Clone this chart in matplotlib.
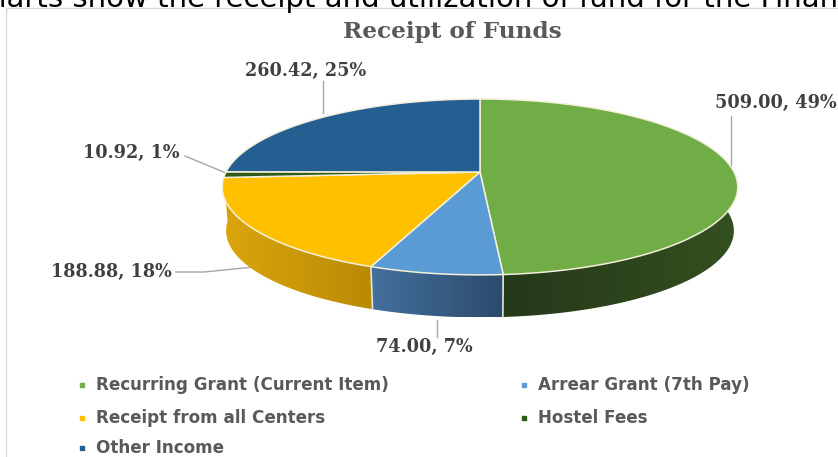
import numpy as np
import matplotlib
matplotlib.use("Agg")
import matplotlib.pyplot as plt
from matplotlib.colors import LinearSegmentedColormap
from matplotlib.patches import Polygon

# dati
categories = ["Recurring Grant (Current Item)", "Arrear Grant (7th Pay)",
              "Receipt from all Centers", "Hostel Fees", "Other Income"]
values = [509.00, 74.00, 188.88, 10.92, 260.42]
value_labels = ["509.00, 49%", "74.00, 7%", "188.88, 18%", "10.92, 1%", "260.42, 25%"]
title = "Receipt of Funds"
header = "charts show the receipt and utilization of fund for the Finan"

top_colors = ["#70ad47", "#5b9bd5", "#ffc000", "#2f5a1c", "#255e91"]
wall_dark = ["#24381a", "#2d4a6c", "#b98a04", "#1d3310", "#1a4165"]
wall_light = ["#34501f", "#43709c", "#dba50c", "#2a4a18", "#255e91"]

# geometria della torta (in pixel), con prospettiva
CX, CY = 480, 172
RX, RY = 254, 85.4
PERSP = 0.17
DEPTH = 44
SHRINK = 0.985


def project(theta, r=1.0, depth=0.0):
    # theta in senso orario dalle ore 12
    t = r * np.sin(theta)
    s = -r * np.cos(theta)
    d = 1 - PERSP * s
    scale = SHRINK if depth else 1.0
    return CX + scale * RX * t / d, CY + scale * RY * s / d + depth


fig = plt.figure(figsize=(8.38, 4.57), dpi=100)
ax = fig.add_axes([0, 0, 1, 1])
ax.set_xlim(0, 838)
ax.set_ylim(457, 0)
ax.axis("off")

# riquadro del grafico
ax.plot([6, 6, 838], [457, 8, 8], color="#d9d9d9", lw=1)

# testo tagliato in alto
ax.text(-28, 7, header, ha="left", va="baseline", fontsize=21,
        family="DejaVu Sans", color="black", clip_on=True, zorder=7)

edges = np.concatenate([[0], np.cumsum(values)]) / np.sum(values) * 2 * np.pi

# pareti laterali (solo la parte davanti)
for i in range(len(values)):
    if values[i] < 20:
        continue
    th = np.linspace(edges[i], edges[i + 1], 120)
    tx, ty = project(th)
    bx, by = project(th, depth=DEPTH)
    keep = ((np.cos(th) < 0.08) & (np.sin(th) > 0)) | ((np.cos(th) < 0) & (np.sin(th) <= 0))
    if keep.sum() < 2:
        continue
    tx, ty, bx, by = tx[keep], ty[keep], bx[keep], by[keep]
    xy = np.column_stack([np.r_[tx, bx[::-1]], np.r_[ty, by[::-1]]])
    poly = Polygon(xy, closed=True, fc="none", ec="none", zorder=2)
    ax.add_patch(poly)
    cmap = LinearSegmentedColormap.from_list("w", [wall_light[i], wall_dark[i]])
    grad = np.linspace(0, 1, 64).reshape(1, -1)
    if i == 0:
        grad = grad[:, ::-1]
    im = ax.imshow(grad, cmap=cmap, aspect="auto", zorder=2,
                   extent=[xy[:, 0].min(), xy[:, 0].max(), xy[:, 1].max(), xy[:, 1].min()])
    im.set_clip_path(poly)
    # linea chiara tra le pareti
    ax.plot([tx[0], bx[0]], [ty[0], by[0]], color="#dfe8e0", lw=1.2, zorder=3)
ax.set_xlim(0, 838)
ax.set_ylim(457, 0)

# facce superiori
for i in range(len(values)):
    th = np.linspace(edges[i], edges[i + 1], 160)
    x, y = project(th)
    xy = np.column_stack([np.r_[CX, x], np.r_[CY, y]])
    ax.add_patch(Polygon(xy, closed=True, fc=top_colors[i], ec="#f4efd8", lw=1.1, zorder=4))

# etichette con linee guida
label_pos = [(776, 103), (424, 347), (111, 272), (131, 153), (306, 71)]
leaders = [[(731, 116), (731, 165)], [(437, 320), (437, 337)],
           [(176, 272), (204, 272), (254, 267)], [(185, 156), (226, 173)],
           [(323, 81), (323, 113)]]
for lab, pos, ld in zip(value_labels, label_pos, leaders):
    ax.text(pos[0], pos[1], lab, ha="center", va="center", fontsize=12.7,
            family="DejaVu Serif", weight="bold", color="#404040", zorder=6)
    ax.plot([p[0] for p in ld], [p[1] for p in ld], color="#a6a6a6", lw=1, zorder=1)

ax.text(452, 32, title, ha="center", va="center", fontsize=16.7,
        family="DejaVu Serif", weight="bold", color="#595959")

# legenda
marker_x = [82, 524, 82, 524, 82]
legend_y = [385, 385, 418, 418, 448]
for name, col, lx, ly in zip(categories, top_colors, marker_x, legend_y):
    ax.plot(lx, ly, marker="s", ms=3.5, color=col, ls="none")
    ax.text(lx + 14, ly, name, ha="left", va="center", fontsize=12.1,
            family="DejaVu Sans", weight="bold", color="#595959")

fig.savefig("out.png", dpi=100)
